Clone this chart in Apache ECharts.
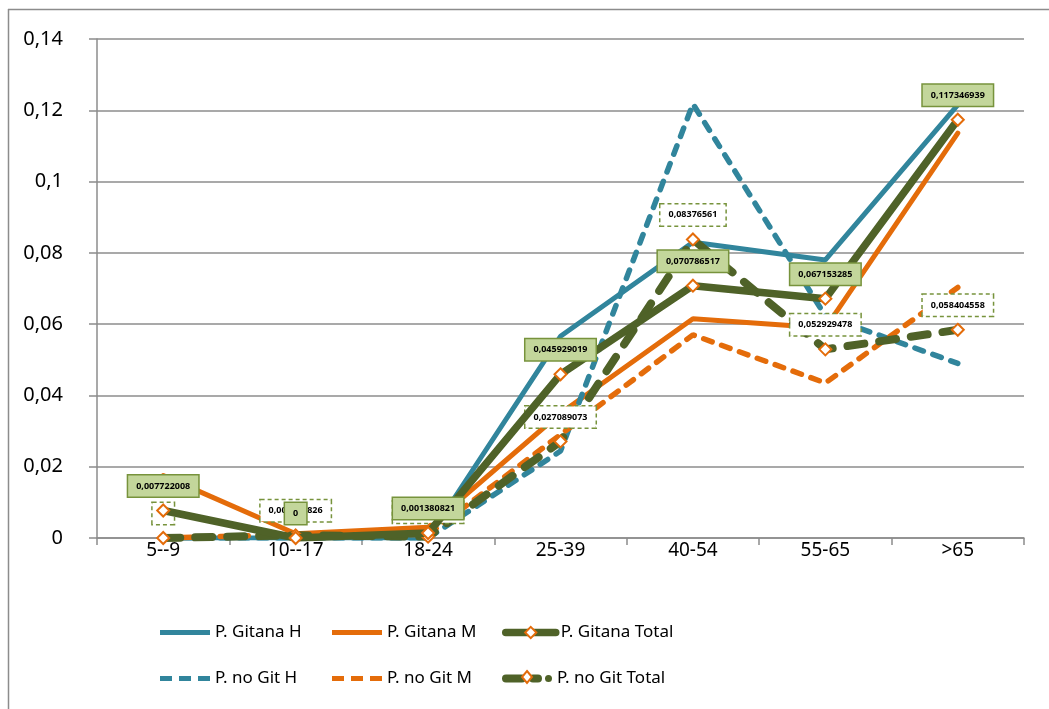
<!DOCTYPE html>
<html>
<head>
<meta charset="utf-8">
<script src="https://cdn.jsdelivr.net/npm/echarts@6/dist/echarts.min.js"></script>
<style>
html,body{margin:0;padding:0;background:#fff;}
#chart{width:1049px;height:709px;}
</style>
</head>
<body>
<div id="chart"></div>
<script>
const categories = ['5--9', '10--17', '18-24', '25-39', '40-54', '55-65', '>65'];
const yTicks = [0, 0.02, 0.04, 0.06, 0.08, 0.1, 0.12, 0.14];

const gitanaH = [0, 0, 0, 0.0566, 0.083, 0.078, 0.1215];
const gitanaM = [0.0175, 0.0012, 0.003, 0.035, 0.0615, 0.0589, 0.1136];
const gitanaTotal = [0.007722008, 0, 0.001380821, 0.045929019, 0.070786517, 0.067153285, 0.117346939];
const noGitH = [0, 0, 0, 0.0244, 0.1218, 0.0623, 0.049];
const noGitM = [0, 0.001, 0.001, 0.029, 0.057, 0.0435, 0.0703];
const noGitTotal = [0, 0.000746826, 0.000384853, 0.027089073, 0.08376561, 0.052929478, 0.058404558];

const BLUE = '#31859c', ORANGE = '#e46c0a', GREEN = '#4f6228';
const FONT = 'Noto Sans';

function fmt(p) { return String(p.value).replace('.', ','); }

const labelBase = {
  show: true, position: 'top', distance: 7, formatter: fmt,
  color: '#000', fontSize: 9, fontWeight: 'bold', fontFamily: FONT,
  padding: [6, 8, 6, 8], borderColor: '#77933c', borderWidth: 1.5
};

const SOLID_ICON = 'path://M0,0H50V5H0Z';
const DASH_ICON = 'path://M0,0H12V5H0Z M19,0H31V5H19Z M38,0H50V5H38Z';
const DASHDOT_ICON = 'path://M4,0H20A4,4 0 0,1 20,8H4A4,4 0 0,1 4,0Z M31,0H36A4,4 0 0,1 36,8H31A4,4 0 0,1 31,0Z M43,4A3.5,3.5 0 1,0 50,4A3.5,3.5 0 1,0 43,4Z';

const chart = echarts.init(document.getElementById('chart'));
const legendPos = [
  ['P. Gitana H', 155, 619, { icon: SOLID_ICON }],
  ['P. Gitana M', 327, 619, { icon: SOLID_ICON }],
  ['P. Gitana Total', 497, 619, {}],
  ['P. no Git H', 155, 665, { icon: DASH_ICON }],
  ['P. no Git M', 327, 665, { icon: DASH_ICON }],
  ['P. no Git Total', 497, 665, { icon: DASHDOT_ICON, itemStyle: { color: GREEN, borderColor: GREEN, borderWidth: 0 } }]
];
chart.setOption({
  animation: false,
  backgroundColor: '#fff',
  textStyle: { fontFamily: FONT },
  graphic: [
    { type: 'line', shape: { x1: 8.5, y1: 9, x2: 8.5, y2: 709 }, style: { stroke: '#8c8c8c', lineWidth: 1.5 } },
    { type: 'line', shape: { x1: 8, y1: 9.5, x2: 1049, y2: 9.5 }, style: { stroke: '#8c8c8c', lineWidth: 1.5 } },
    { type: 'polygon', z: 100, shape: { points: [[527, 671], [532, 677], [527, 683], [522, 677]] },
      style: { fill: '#fff', stroke: ORANGE, lineWidth: 2 } }
  ],
  legend: legendPos.map(([n, x, y, extra]) => ({
    data: [Object.assign({ name: n }, extra)],
    left: x, top: y, itemWidth: 50, itemHeight: 14,
    lineStyle: { width: 'inherit' },
    textStyle: { fontSize: 17, color: '#000', fontFamily: FONT }
  })),
  grid: { left: 97, right: 25, top: 39, bottom: 171, containLabel: false },
  xAxis: {
    type: 'category', data: categories, boundaryGap: true,
    axisLine: { lineStyle: { color: '#8c8c8c', width: 1.5 } },
    axisTick: { show: true, length: 7, lineStyle: { color: '#8c8c8c', width: 1.5 } },
    axisLabel: { color: '#000', fontSize: 19, margin: 3, fontFamily: FONT }
  },
  yAxis: {
    type: 'value', min: 0, max: 0.14, interval: 0.02,
    axisLine: { show: true, lineStyle: { color: '#8c8c8c', width: 1.5 } },
    axisTick: { show: true, length: 8, lineStyle: { color: '#8c8c8c', width: 1.5 } },
    splitLine: { lineStyle: { color: '#8c8c8c', width: 1.5 } },
    axisLabel: {
      color: '#000', fontSize: 20, margin: 34, fontFamily: FONT,
      formatter: v => {
        const t = yTicks.find(x => Math.abs(x - v) < 1e-9);
        return String(t !== undefined ? t : v).replace('.', ',');
      }
    }
  },
  series: [
    { name: 'P. Gitana H', type: 'line', data: gitanaH, symbol: 'none', z: 2,
      lineStyle: { color: BLUE, width: 5, cap: 'round' }, itemStyle: { color: BLUE } },
    { name: 'P. Gitana M', type: 'line', data: gitanaM, symbol: 'none', z: 2,
      lineStyle: { color: ORANGE, width: 5, cap: 'round' }, itemStyle: { color: ORANGE } },
    { name: 'P. no Git H', type: 'line', data: noGitH, symbol: 'none', z: 2,
      lineStyle: { color: BLUE, width: 5.5, type: [9, 10], cap: 'round' }, itemStyle: { color: BLUE } },
    { name: 'P. no Git M', type: 'line', data: noGitM, symbol: 'none', z: 2,
      lineStyle: { color: ORANGE, width: 5.5, type: [9, 10], cap: 'round' }, itemStyle: { color: ORANGE } },
    { name: 'P. no Git Total', type: 'line', data: noGitTotal, symbol: 'diamond', symbolSize: 12, z: 3,
      lineStyle: { color: GREEN, width: 8, type: [17, 15], cap: 'round' },
      itemStyle: { color: '#fff', borderColor: ORANGE, borderWidth: 2 },
      label: Object.assign({}, labelBase, { backgroundColor: '#fff', borderType: [4, 3] }) },
    { name: 'P. Gitana Total', type: 'line', data: gitanaTotal, symbol: 'diamond', symbolSize: 12, z: 4,
      lineStyle: { color: GREEN, width: 7.5, cap: 'round' },
      itemStyle: { color: '#fff', borderColor: ORANGE, borderWidth: 2 },
      label: Object.assign({}, labelBase, { backgroundColor: '#c3d69b' }) }
  ]
});
</script>
</body>
</html>
